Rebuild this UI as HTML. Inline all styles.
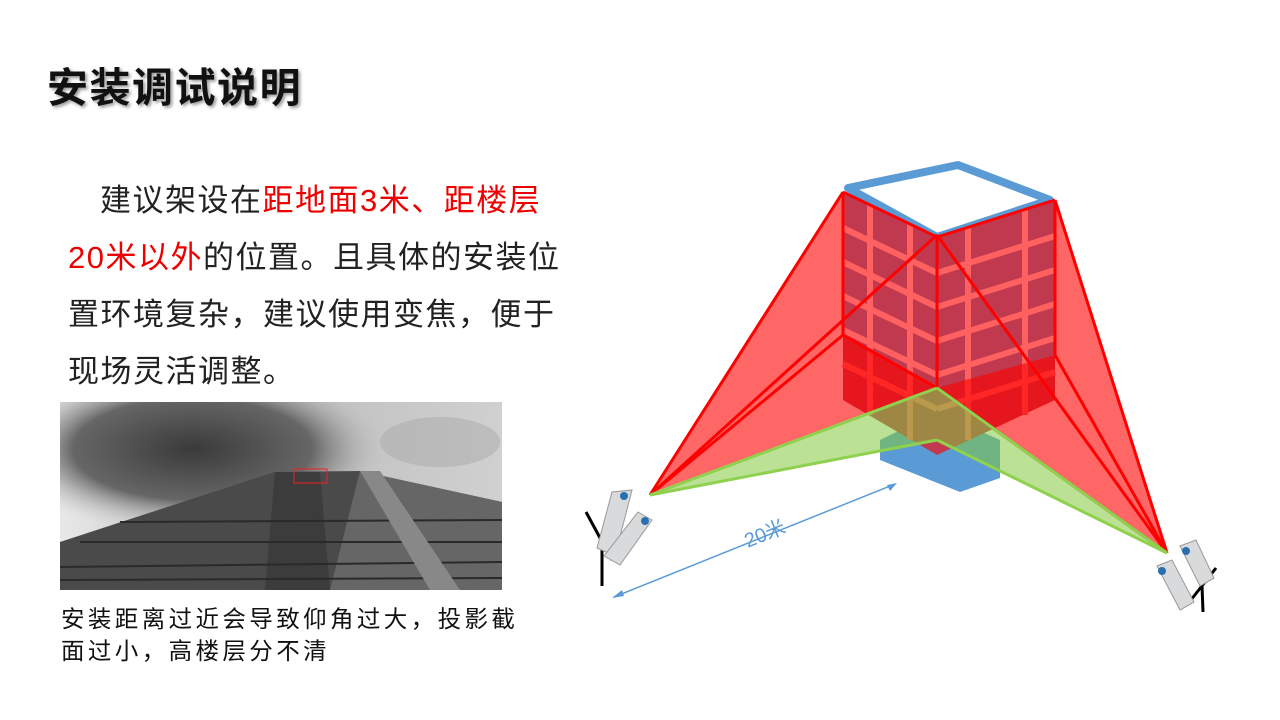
<!DOCTYPE html>
<html><head><meta charset="utf-8"><style>
body{margin:0;width:1280px;height:720px;background:#fff;position:relative;overflow:hidden;font-family:"Liberation Sans","Noto Sans CJK SC",sans-serif}
.t{position:absolute;left:47px;top:54px;font-size:41px;letter-spacing:1.5px;font-weight:bold;color:#111;text-shadow:2px 2px 3px #999;white-space:nowrap}
.p{position:absolute;left:68px;top:172px;font-size:31px;letter-spacing:1.5px;line-height:57px;color:#222;white-space:nowrap}
.r{color:#e00}
.c{position:absolute;left:61px;top:603px;font-size:23.5px;letter-spacing:3.4px;line-height:32px;color:#111;white-space:nowrap}
.ph{position:absolute;left:60px;top:402px;width:442px;height:188px;overflow:hidden;background:#ccc}
</style></head><body>
<div class="t">安装调试说明</div>
<div class="p"><span style="display:inline-block;width:32px"></span>建议架设在<span class="r">距地面3米、距楼层</span><br><span class="r">20米以外</span>的位置。且具体的安装位<br>置环境复杂，建议使用变焦，便于<br>现场灵活调整。</div>
<div class="ph">
<svg width="442" height="188">
<defs>
<radialGradient id="cl" cx="0.3" cy="0.25" r="0.45"><stop offset="0" stop-color="#3a3a3a"/><stop offset="0.6" stop-color="#666"/><stop offset="1" stop-color="#ccc" stop-opacity="0"/></radialGradient>
<linearGradient id="sk" x1="0" x2="1"><stop offset="0" stop-color="#e8e8e8"/><stop offset="0.4" stop-color="#bbb"/><stop offset="1" stop-color="#d0d0d0"/></linearGradient>
</defs>
<rect width="442" height="188" fill="url(#sk)"/>
<rect width="442" height="188" fill="url(#cl)"/>
<ellipse cx="380" cy="40" rx="60" ry="25" fill="#aaa" opacity="0.5"/>
<polygon points="0,140 190,78 215,70 300,69 442,100 442,188 0,188" fill="#4a4a4a"/>
<polygon points="300,69 442,100 442,188 270,188" fill="#666"/>
<polygon points="215,70 260,70 270,188 205,188" fill="#3c3c3c"/>
<g stroke="#2a2a2a" stroke-width="2">
<line x1="0" y1="165" x2="442" y2="160"/><line x1="0" y1="178" x2="442" y2="176"/><line x1="20" y1="140" x2="442" y2="140"/><line x1="60" y1="120" x2="442" y2="118"/>
</g>
<polygon points="300,69 320,69 400,188 370,188" fill="#888"/>
<rect x="234" y="67" width="33" height="14" fill="none" stroke="#e22" stroke-width="1"/>
</svg></div>
<div class="c">安装距离过近会导致仰角过大，投影截<br>面过小，高楼层分不清</div>
<svg width="1280" height="720" style="position:absolute;left:0;top:0">
<polygon points="880,440 937,412 1000,440 1000,478 960,492 880,460" fill="#5b9bd5"/>
<polygon points="848,188 958,165 1050,200 937,237" fill="#fff" stroke="#5b9bd5" stroke-width="8" stroke-linejoin="round"/>
<polygon points="843,192 937,237 937,455 843,400" fill="#c0394f"/>
<polygon points="937,237 1055,200 1055,400 937,455" fill="#c0394f"/>
<g stroke="#ff6060" stroke-width="6">
<line x1="870" y1="205" x2="870" y2="415"/><line x1="910" y1="224" x2="910" y2="440"/>
<line x1="968" y1="228" x2="968" y2="440"/><line x1="1025" y1="210" x2="1025" y2="415"/>
<line x1="843" y1="228" x2="937" y2="273"/><line x1="843" y1="262" x2="937" y2="307"/><line x1="843" y1="296" x2="937" y2="341"/><line x1="843" y1="330" x2="937" y2="375"/><line x1="843" y1="364" x2="937" y2="409"/>
<line x1="937" y1="273" x2="1055" y2="236"/><line x1="937" y1="307" x2="1055" y2="270"/><line x1="937" y1="341" x2="1055" y2="304"/><line x1="937" y1="375" x2="1055" y2="338"/><line x1="937" y1="409" x2="1055" y2="372"/>
</g>
<g fill="rgba(255,0,0,0.6)">
<polygon points="650,495 843,192 843,335"/>
<polygon points="650,495 843,335 937,388"/>
<polygon points="1167,553 1055,200 1055,355"/>
<polygon points="1167,553 1055,355 937,388"/>
</g>
<g fill="rgba(130,200,60,0.55)">
<polygon points="650,495 937,388 937,440"/>
<polygon points="1167,553 937,388 937,440"/>
</g>
<g stroke="#f00" stroke-width="3" fill="none">
<line x1="650" y1="495" x2="843" y2="192"/><line x1="650" y1="495" x2="937" y2="235"/><line x1="650" y1="495" x2="843" y2="335"/>
<line x1="1167" y1="553" x2="1055" y2="200"/><line x1="1167" y1="553" x2="937" y2="235"/><line x1="1167" y1="553" x2="1055" y2="355"/><line x1="1167" y1="553" x2="937" y2="388"/>
<polyline points="843,192 937,237 1055,200"/><line x1="843" y1="192" x2="843" y2="335"/><line x1="1055" y1="200" x2="1055" y2="355"/><line x1="937" y1="237" x2="937" y2="388"/><line x1="843" y1="335" x2="937" y2="388"/>
</g>
<g stroke="#8fd14f" stroke-width="3">
<line x1="650" y1="495" x2="937" y2="388"/><line x1="650" y1="495" x2="937" y2="440"/><line x1="1167" y1="553" x2="937" y2="440"/><line x1="1167" y1="553" x2="937" y2="388"/>
</g>
<g stroke="#5b9bd5" stroke-width="1.5" fill="#5b9bd5">
<line x1="614" y1="597" x2="895" y2="484"/>
<polygon points="612,598 622,590 624,596" stroke="none"/><polygon points="897,483 887,485 890,491" stroke="none"/>
</g>
<text x="742" y="542" transform="rotate(-22 760 530)" font-size="20" fill="#5b9bd5" font-family="Liberation Sans,Noto Sans CJK SC,sans-serif">20米</text>
<g stroke="#000" stroke-width="3"><line x1="586" y1="512" x2="612" y2="560"/><line x1="602" y1="540" x2="602" y2="586"/><line x1="1216" y1="568" x2="1187" y2="605"/><line x1="1202" y1="585" x2="1203" y2="612"/></g>
<g fill="#d8dadc" stroke="#999">
<polygon points="612,492 632,490 615,556 597,548"/>
<polygon points="638,512 652,520 620,565 604,556"/>
<polygon points="1157,566 1172,560 1194,602 1180,610"/>
<polygon points="1180,546 1196,540 1214,578 1200,586"/>
</g>
<g fill="#2a6fb0"><circle cx="624" cy="496" r="4"/><circle cx="645" cy="521" r="4"/><circle cx="1162" cy="571" r="4"/><circle cx="1186" cy="551" r="4"/></g>
</svg>
</body></html>
